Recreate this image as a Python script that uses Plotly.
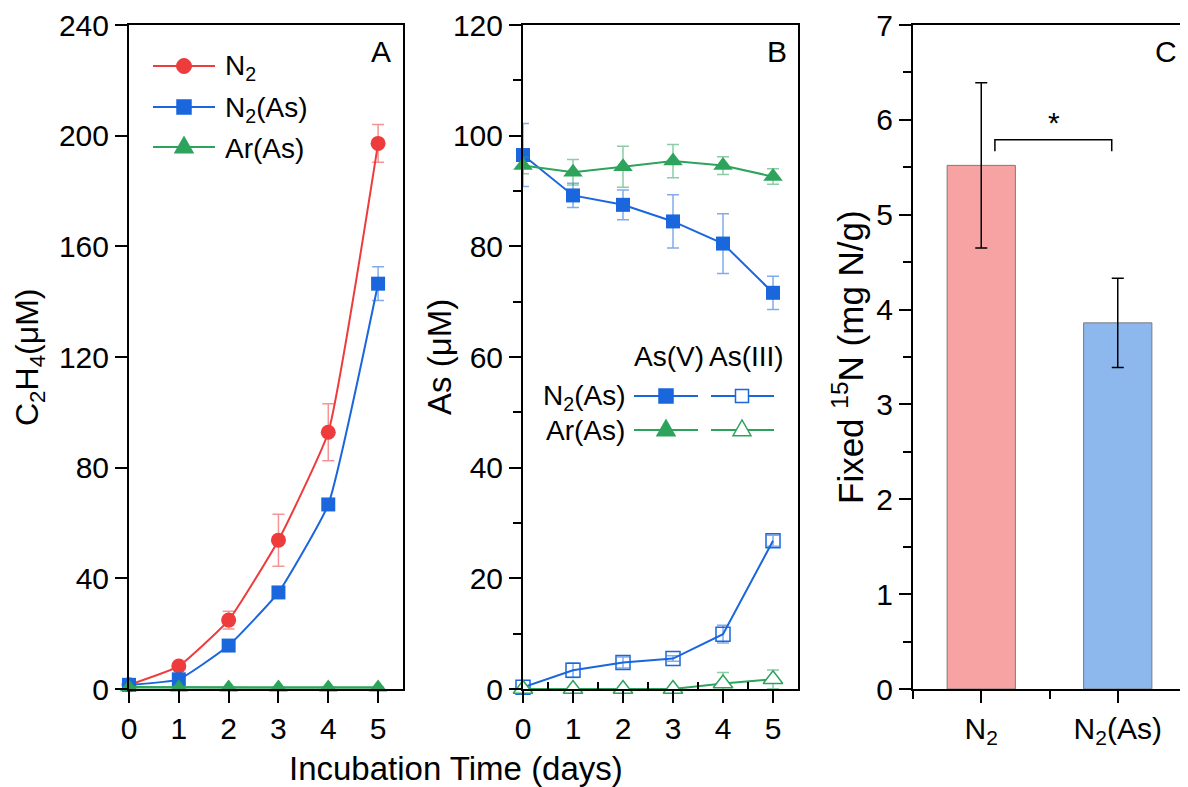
import plotly.graph_objects as go

# The page body has an 8px margin, so the figure is drawn 8px smaller and all
# reference pixel positions are shifted by that offset.
OFF = 8
W, H = 1188 - OFF, 787 - OFF

# ---------------- data ----------------
days = [0, 1, 2, 3, 4, 5]

# Panel A: C2H4 (uM)
c2h4_n2 = [1.5, 8.3, 24.9, 53.8, 92.8, 197.2]
c2h4_n2_err = [0.5, 1.0, 3.2, 9.4, 10.3, 6.8]
c2h4_n2as = [1.5, 3.5, 15.7, 34.9, 66.7, 146.5]
c2h4_n2as_err = [0.3, 0.8, 1.2, 1.5, 1.5, 6.1]
c2h4_aras = [0.6, 0.5, 0.5, 0.5, 0.5, 0.5]
c2h4_aras_err = [0.2, 0.2, 0.2, 0.2, 0.2, 0.2]

# Panel B: As (uM)
asv_n2as = [96.5, 89.2, 87.5, 84.5, 80.5, 71.6]
asv_n2as_err = [5.7, 2.2, 2.7, 4.8, 5.4, 3.0]
asv_aras = [94.6, 93.4, 94.4, 95.4, 94.6, 92.6]
asv_aras_err = [1.5, 2.3, 3.7, 3.0, 1.6, 1.4]
asiii_n2as = [0.3, 3.4, 4.8, 5.5, 9.9, 26.8]
asiii_n2as_err = [0.3, 1.3, 1.0, 0.5, 1.6, 1.0]
asiii_aras = [0.0, 0.0, 0.0, 0.0, 1.0, 1.75]
asiii_aras_err = [0.0, 0.0, 0.0, 0.0, 2.0, 1.7]

# Panel C: Fixed 15N (mg N/g)
groups = ["N<sub>2</sub>", "N<sub>2</sub>(As)"]
fixed15n = [5.52, 3.86]
fixed15n_err = [0.87, 0.47]

# ---------------- style ----------------
RED = "#EE3B3B"
BLUE = "#1A66DD"
GREEN = "#2EA35C"
RED_E = "rgba(238,59,59,0.55)"
BLUE_E = "rgba(26,102,221,0.55)"
GREEN_E = "rgba(46,163,92,0.55)"
BAR_RED = "#F7A3A3"
BAR_BLUE = "#8DB8EE"
FONT = "Liberation Sans, Arial, sans-serif"
TICKF = 30
LEGF = 28
TITLEF = 33


def px_x(x):
    return (x - OFF) / W


def px_y(y):
    return 1 - (y - OFF) / H


fig = go.Figure()


def err(arr, color):
    return dict(type="data", array=arr, visible=True, color=color, thickness=1.5, width=6)


SPL = dict(shape="spline", smoothing=0.4)

# ---- Panel A ----
fig.add_trace(go.Scatter(x=days, y=c2h4_n2, mode="lines+markers", line=dict(color=RED, width=2, **SPL),
                         marker=dict(symbol="circle", size=15, color=RED), error_y=err(c2h4_n2_err, RED_E),
                         xaxis="x", yaxis="y", cliponaxis=False, showlegend=False))
fig.add_trace(go.Scatter(x=days, y=c2h4_n2as, mode="lines+markers", line=dict(color=BLUE, width=2, **SPL),
                         marker=dict(symbol="square", size=14, color=BLUE), error_y=err(c2h4_n2as_err, BLUE_E),
                         xaxis="x", yaxis="y", cliponaxis=False, showlegend=False))
fig.add_trace(go.Scatter(x=days, y=c2h4_aras, mode="lines+markers", line=dict(color=GREEN, width=2.5),
                         marker=dict(symbol="triangle-up", size=16, color=GREEN), error_y=err(c2h4_aras_err, GREEN_E),
                         xaxis="x", yaxis="y", cliponaxis=False, showlegend=False))

# ---- Panel B ----
fig.add_trace(go.Scatter(x=days, y=asv_n2as, mode="lines+markers", line=dict(color=BLUE, width=2),
                         marker=dict(symbol="square", size=14, color=BLUE), error_y=err(asv_n2as_err, BLUE_E),
                         xaxis="x2", yaxis="y2", cliponaxis=False, showlegend=False))
fig.add_trace(go.Scatter(x=days, y=asv_aras, mode="lines+markers", line=dict(color=GREEN, width=2),
                         marker=dict(symbol="triangle-up", size=17, color=GREEN), error_y=err(asv_aras_err, GREEN_E),
                         xaxis="x2", yaxis="y2", cliponaxis=False, showlegend=False))
fig.add_trace(go.Scatter(x=days, y=asiii_n2as, mode="lines+markers", line=dict(color=BLUE, width=2),
                         marker=dict(symbol="square-open", size=14, color=BLUE, line=dict(width=1.5)),
                         error_y=err(asiii_n2as_err, BLUE_E),
                         xaxis="x2", yaxis="y2", cliponaxis=False, showlegend=False))
fig.add_trace(go.Scatter(x=days, y=asiii_aras, mode="lines+markers", line=dict(color=GREEN, width=2),
                         marker=dict(symbol="triangle-up", size=17, color="white", line=dict(color=GREEN, width=1.5)),
                         error_y=err(asiii_aras_err, GREEN_E),
                         xaxis="x2", yaxis="y2", cliponaxis=False, showlegend=False))

# ---- Panel C ----
fig.add_trace(go.Bar(x=[0, 1], y=fixed15n, width=0.5,
                     marker=dict(color=[BAR_RED, BAR_BLUE], line=dict(color="#7a7a7a", width=1)),
                     error_y=dict(type="data", array=fixed15n_err, visible=True, color="black", thickness=1.5, width=6),
                     xaxis="x3", yaxis="y3", showlegend=False))

# ---------------- axes ----------------
ydom = [px_y(689), px_y(25)]
common = dict(showline=True, linecolor="black", linewidth=2, mirror=True, showgrid=False, zeroline=False,
              automargin=False, ticks="outside", ticklen=12, tickwidth=2, tickcolor="black",
              tickfont=dict(family=FONT, size=TICKF, color="black"))

fig.update_layout(
    xaxis=dict(common, domain=[px_x(129), px_x(403)], range=[0, 5.5], tickvals=days, anchor="y"),
    yaxis=dict(common, domain=ydom, range=[0, 240], dtick=40, anchor="x"),
    xaxis2=dict(common, domain=[px_x(523), px_x(798)], range=[0, 5.5], tickvals=days, anchor="y2",
                minor=dict(tickvals=[0.5, 1.5, 2.5, 3.5, 4.5], ticks="inside", ticklen=7, tickwidth=2, tickcolor="black")),
    yaxis2=dict(common, domain=ydom, range=[0, 120], dtick=20, anchor="x2",
                minor=dict(dtick=10, ticks="outside", ticklen=8, tickwidth=2, tickcolor="black")),
    xaxis3=dict(common, domain=[px_x(913), px_x(1186)], range=[-0.5, 1.5], tickvals=[0, 1], ticktext=groups, anchor="y3",
                minor=dict(tickvals=[-0.5, 0.5, 1.5], ticks="outside", ticklen=8, tickwidth=2, tickcolor="black")),
    yaxis3=dict(common, domain=ydom, range=[0, 7], dtick=1, anchor="x3",
                minor=dict(dtick=0.5, ticks="outside", ticklen=8, tickwidth=2, tickcolor="black")),
    width=W, height=H, margin=dict(l=0, r=0, t=0, b=0, autoexpand=False),
    paper_bgcolor="white", plot_bgcolor="white",
    font=dict(family=FONT, size=TICKF, color="black"),
)

# ---------------- annotations ----------------
ann = []


def text(x, y, s, size=LEGF, xanchor="center", angle=0):
    ann.append(dict(x=px_x(x), y=px_y(y), xref="paper", yref="paper", text=s, showarrow=False,
                    xanchor=xanchor, yanchor="middle", textangle=angle,
                    font=dict(family=FONT, size=size, color="black")))


text(381, 52, "A", 30)
text(777, 52, "B", 30)
text(1166, 52, "C", 30)
text(30, 357, "C<sub>2</sub>H<sub>4</sub>(μM)", 32, angle=-90)
text(440, 357, "As (μM)", 33, angle=-90)
text(848, 357, "Fixed <sup>15</sup>N (mg N/g)", 35, angle=-90)
text(456, 768, "Incubation Time (days)", TITLEF)

# Legend A text
text(223, 68, "N<sub>2</sub>", xanchor="left")
text(223, 109, "N<sub>2</sub>(As)", xanchor="left")
text(223, 148, "Ar(As)", xanchor="left")
# Legend B text
text(669, 357, "As(V)")
text(746, 357, "As(III)")
text(627, 397, "N<sub>2</sub>(As)", xanchor="right")
text(627, 430, "Ar(As)", xanchor="right")

# significance mark in panel C
ann.append(dict(x=0.53, y=5.97, xref="x3", yref="y3", text="*", showarrow=False, yanchor="middle",
                font=dict(family=FONT, size=30, color="black")))

fig.update_layout(annotations=ann)

# ---------------- shapes (legend keys, bracket) ----------------
shapes = []


def hline(x0, x1, y, color):
    shapes.append(dict(type="line", xref="paper", yref="paper", x0=px_x(x0), x1=px_x(x1), y0=px_y(y), y1=px_y(y),
                       line=dict(color=color, width=2)))


def circle(cx, cy, r, color):
    shapes.append(dict(type="circle", xref="paper", yref="paper", x0=px_x(cx - r), x1=px_x(cx + r),
                       y0=px_y(cy + r), y1=px_y(cy - r), fillcolor=color, line=dict(color=color, width=1)))


def square(cx, cy, r, color, fill):
    shapes.append(dict(type="rect", xref="paper", yref="paper", x0=px_x(cx - r), x1=px_x(cx + r),
                       y0=px_y(cy + r), y1=px_y(cy - r), fillcolor=fill, line=dict(color=color, width=1.5)))


def tri(cx, cy, r, color, fill):
    p = "M {} {} L {} {} L {} {} Z".format(px_x(cx - r), px_y(cy + 0.75 * r), px_x(cx + r), px_y(cy + 0.75 * r),
                                           px_x(cx), px_y(cy - r))
    shapes.append(dict(type="path", xref="paper", yref="paper", path=p, fillcolor=fill, line=dict(color=color, width=1.5)))


hline(153, 215, 66, RED); circle(184, 66, 7.5, RED)
hline(153, 215, 107, BLUE); square(184, 107, 7, BLUE, BLUE)
hline(153, 215, 147, GREEN); tri(184, 146, 9, GREEN, GREEN)

hline(634, 698, 396, BLUE); square(666, 396, 7, BLUE, BLUE)
hline(711, 774, 396, BLUE); square(742, 396, 6.5, BLUE, "white")
hline(634, 698, 430, GREEN); tri(666, 429, 9, GREEN, GREEN)
hline(711, 774, 430, GREEN); tri(742, 429, 9, GREEN, "white")

# significance bracket
shapes.append(dict(type="path", xref="x3", yref="y3", path="M 0.1 5.67 L 0.1 5.79 L 0.956 5.79 L 0.956 5.67",
                   line=dict(color="black", width=1.5)))

fig.update_layout(shapes=shapes)

fig.write_html("out.html")
